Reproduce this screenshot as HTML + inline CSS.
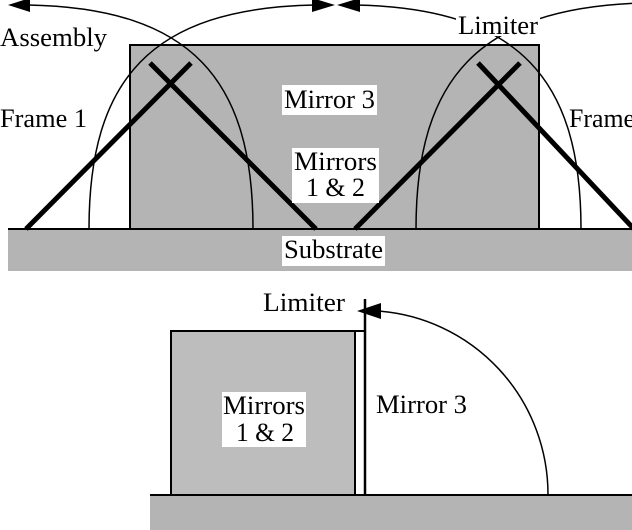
<!DOCTYPE html>
<html><head><style>body{margin:0;background:#fff}svg{display:block}</style></head>
<body>
<svg width="632" height="530" viewBox="0 0 632 530" xmlns="http://www.w3.org/2000/svg" font-family="Liberation Serif, serif" font-size="26">
<!-- top -->
<rect x="8" y="229" width="630" height="42" fill="#b4b4b4"/>
<line x1="8" y1="229" x2="632" y2="229" stroke="#000" stroke-width="2"/>
<rect x="130" y="45" width="409" height="184" fill="#b4b4b4" stroke="#000" stroke-width="2"/>
<g fill="none" stroke="#000" stroke-width="1.5">
<path d="M89,229 C89,80 150,8 315,5"/>
<path d="M253,229 C253,80 192,8 28,5"/>
<path d="M581,229 C581,80 520,8 355,5"/>
<path d="M416,229 C416,80 477,8 642,3"/>
</g>
<polygon points="335,5 312,-2 312,12" fill="#000"/>
<polygon points="337,5 360,-2 360,12" fill="#000"/>
<polygon points="8,5 30,-2 30,12" fill="#000"/>
<g stroke="#000" stroke-width="5">
<line x1="26" y1="229" x2="191" y2="63"/>
<line x1="316" y1="229" x2="150" y2="63"/>
<line x1="355" y1="229" x2="520" y2="63"/>
<line x1="634" y1="229" x2="478" y2="63"/>
</g>
<rect x="282" y="85" width="95" height="30" fill="#fff"/>
<text x="284" y="108" textLength="91" lengthAdjust="spacingAndGlyphs">Mirror 3</text>
<rect x="292" y="148" width="87" height="55" fill="#fff"/>
<text x="294" y="170" textLength="83" lengthAdjust="spacingAndGlyphs">Mirrors</text>
<text x="306" y="196" textLength="59" lengthAdjust="spacingAndGlyphs">1 &amp; 2</text>
<rect x="282" y="236" width="103" height="30" fill="#fff"/>
<text x="284" y="258" textLength="99" lengthAdjust="spacingAndGlyphs">Substrate</text>
<rect x="456" y="12" width="84" height="24" fill="#fff"/>
<text x="458" y="34" textLength="80" lengthAdjust="spacingAndGlyphs">Limiter</text>
<text x="0" y="46" textLength="107" lengthAdjust="spacingAndGlyphs">Assembly</text>
<text x="0" y="127" textLength="87" lengthAdjust="spacingAndGlyphs">Frame 1</text>
<text x="569" y="127" textLength="66" lengthAdjust="spacingAndGlyphs">Frame</text>
<!-- bottom -->
<rect x="150" y="495" width="490" height="40" fill="#b4b4b4"/>
<line x1="150" y1="495" x2="632" y2="495" stroke="#000" stroke-width="2"/>
<rect x="171" y="331" width="184" height="164" fill="#bdbdbd" stroke="#000" stroke-width="2"/>
<line x1="355" y1="331" x2="365" y2="331" stroke="#000" stroke-width="2"/>
<line x1="365" y1="299" x2="365" y2="495" stroke="#000" stroke-width="2.5"/>
<path d="M378,311 A183,184 0 0 1 548,495" fill="none" stroke="#000" stroke-width="1.5"/>
<polygon points="357,311 381,303 381,319" fill="#000"/>
<text x="263" y="311" textLength="82" lengthAdjust="spacingAndGlyphs">Limiter</text>
<rect x="222" y="392" width="84" height="55" fill="#fff"/>
<text x="223" y="414" textLength="82" lengthAdjust="spacingAndGlyphs">Mirrors</text>
<text x="236" y="441" textLength="58" lengthAdjust="spacingAndGlyphs">1 &amp; 2</text>
<text x="376" y="413" textLength="91" lengthAdjust="spacingAndGlyphs">Mirror 3</text>
</svg>
</body></html>
